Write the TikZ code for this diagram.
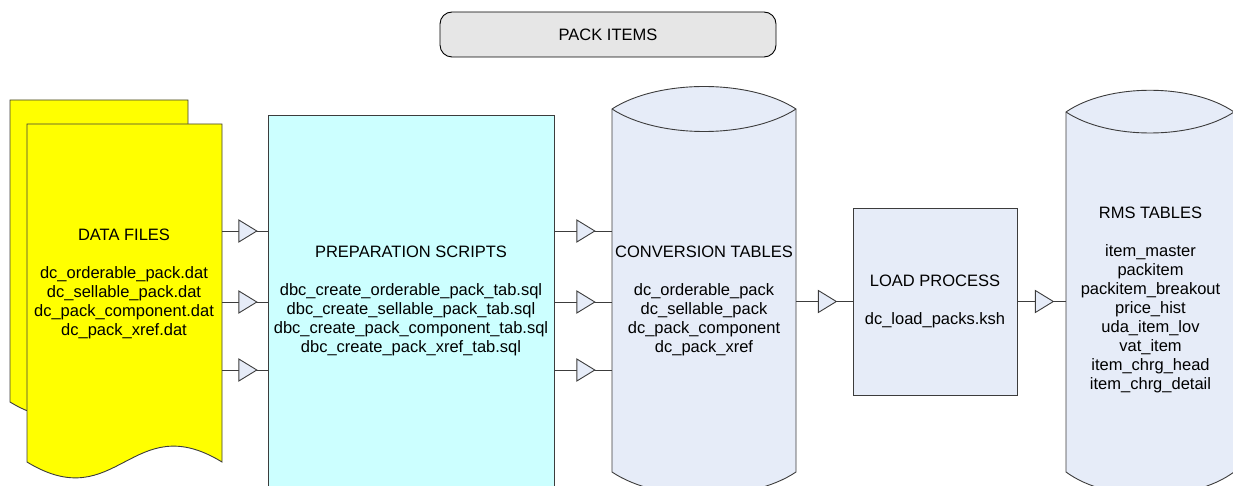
\documentclass[tikz,border=0pt]{standalone}
\usepackage{fontspec}
\setmainfont{Liberation Sans}
\definecolor{docyellow}{RGB}{255,255,0}
\definecolor{scriptcyan}{RGB}{204,255,255}
\definecolor{tablelav}{RGB}{230,236,248}
\definecolor{titlegray}{RGB}{230,230,230}
\definecolor{linegray}{RGB}{60,60,60}
\usetikzlibrary{positioning, shapes.geometric}

\begin{document}
\begin{tikzpicture}[
      x=1pt, y=-1pt,
      font=\fontsize{16.5}{19}\selectfont,
      outline/.style={draw=linegray, line width=0.9pt},
      body/.style={inner sep=0pt, outer sep=0pt},
      box/.style={outline, body, rectangle},
      caption/.style={align=center, inner sep=0pt},
      flow/.style={draw=linegray, line width=0.9pt},
      tri/.style={
        isosceles triangle, isosceles triangle stretches,
        minimum width=22pt, minimum height=18pt, inner sep=0pt,
        outline, fill=tablelav
      }
    ]
      \path[use as bounding box, clip] (0,0) rectangle (1233,486);

      \node[box, rounded corners=12pt, draw=black, fill=titlegray,
        minimum width=336pt, minimum height=45pt] (title) at (608,34.5) {PACK ITEMS};

      \draw[outline, fill=docyellow] (10,100) -- (188,100) -- (188,402)
        .. controls (106,352) and (92,452) .. (10,402) -- cycle;
      \draw[outline, fill=docyellow] (27,124) -- (222,124) -- (222,462)
        .. controls (132,407) and (117,517) .. (27,462) -- cycle;
      \node[body, minimum width=195pt, minimum height=338pt] (data) at (124.5,293) {};
      \node[caption] (dataText) at (124,284) {DATA FILES\\[19pt]dc\_orderable\_pack.dat\\dc\_sellable\_pack.dat\\dc\_pack\_component.dat\\dc\_pack\_xref.dat};

      \node[box, fill=scriptcyan, minimum width=286pt, minimum height=400pt] (prep) at (411,315) {};
      \node[caption] (prepText) at (411,301) {PREPARATION SCRIPTS\\[19pt]dbc\_create\_orderable\_pack\_tab.sql\\dbc\_create\_sellable\_pack\_tab.sql\\dbc\_create\_pack\_component\_tab.sql\\dbc\_create\_pack\_xref\_tab.sql};

      \draw[outline, fill=tablelav] (612,109) .. controls (658,79) and (750,79) .. (796,109)
        -- (796,472) .. controls (750,503) and (658,503) .. (612,472) -- cycle;
      \draw[outline] (612,109) .. controls (658,139) and (750,139) .. (796,109);
      \node[body, minimum width=184pt, minimum height=363pt] (conv) at (704,290.5) {};
      \node[caption] (convText) at (704,300.5) {CONVERSION TABLES\\[19pt]dc\_orderable\_pack\\dc\_sellable\_pack\\dc\_pack\_component\\dc\_pack\_xref};

      \node[box, fill=tablelav, minimum width=164pt, minimum height=187pt] (load) at (935,301.5) {};
      \node[caption] (loadText) at (935,301) {LOAD PROCESS\\[19pt]dc\_load\_packs.ksh};

      \draw[outline, fill=tablelav] (1066,112) .. controls (1108,83) and (1192,83) .. (1234,112)
        -- (1234,472) .. controls (1192,503) and (1108,503) .. (1066,472) -- cycle;
      \draw[outline] (1066,112) .. controls (1108,140) and (1192,140) .. (1234,112);
      \node[body, minimum width=168pt, minimum height=360pt] (rms) at (1150,292) {};
      \node[caption] (rmsText) at (1150.5,300) {RMS TABLES\\[19pt]item\_master\\packitem\\packitem\_breakout\\price\_hist\\uda\_item\_lov\\vat\_item\\item\_chrg\_head\\item\_chrg\_detail};

      \coordinate (rowA) at (0,231);
      \coordinate (rowB) at (0,302);
      \coordinate (rowC) at (0,370);

      \draw[flow] (data.east |- rowA) -- node[tri] {} (prep.west |- rowA);
      \draw[flow] (data.east |- rowB) -- node[tri] {} (prep.west |- rowB);
      \draw[flow] (data.east |- rowC) -- node[tri] {} (prep.west |- rowC);
      \draw[flow] (prep.east |- rowA) -- node[tri] {} (conv.west |- rowA);
      \draw[flow] (prep.east |- rowB) -- node[tri] {} (conv.west |- rowB);
      \draw[flow] (prep.east |- rowC) -- node[tri] {} (conv.west |- rowC);
      \draw[flow] (conv.east |- load.west) -- node[tri] {} (load.west);
      \draw[flow] (load.east) -- node[tri] {} (rms.west |- load.east);
    \end{tikzpicture}
\end{document}
